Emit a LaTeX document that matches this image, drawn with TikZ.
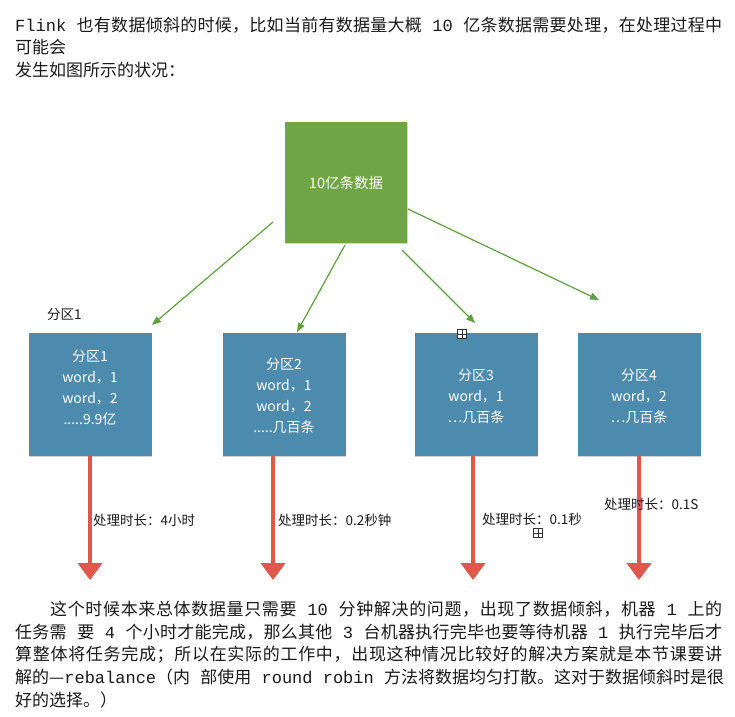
\documentclass[tikz,border=0pt]{standalone}
\usepackage{fontspec}
\setmainfont{Noto Sans CJK SC}
\newfontfamily\latfam{Liberation Mono}
\newcommand\latw[1]{\hbox{\latfam #1}\hskip 0pt plus 1pt}
\def\cjks#1{\cjksaux#1\relax}
\def\cjksaux#1{\ifx#1\relax\else #1\hskip 0pt plus 1pt\expandafter\cjksaux\fi}
\usetikzlibrary{arrows.meta,shadows}
\newcommand\jline[2]{\makebox[#1][s]{#2\unskip}}
\definecolor{boxgreen}{HTML}{6FA544}
\definecolor{boxblue}{HTML}{4C8BAD}
\definecolor{arrowgreen}{HTML}{5CA23C}
\definecolor{arrowred}{HTML}{E0574C}
\definecolor{txt}{HTML}{1A1A1A}
\begin{document}
\begin{tikzpicture}[x=1pt,y=-1pt,
  para/.style={anchor=west,inner sep=0pt,font=\fontsize{17}{17}\selectfont,text=txt},
  databox/.style={fill=boxgreen,minimum width=122pt,minimum height=121pt,inner sep=0pt,
    text=white,font=\fontsize{14.5}{17}\selectfont,
    drop shadow={shadow xshift=0.8pt,shadow yshift=-1.4pt,opacity=0.35}},
  partbox/.style={fill=boxblue,minimum width=123pt,minimum height=123pt,inner sep=0pt,
    drop shadow={shadow xshift=0.8pt,shadow yshift=-1.4pt,opacity=0.35}},
  parttext/.style={text=white,align=center,inner sep=0pt,font=\fontsize{14}{21}\selectfont},
  feed/.style={draw=arrowgreen,line width=1.2pt,-{Triangle[length=9pt,width=7pt]}},
  slow/.style={draw=arrowred,line width=4.5pt,-{Triangle[length=17pt,width=24pt]}},
  lbl/.style={anchor=west,inner sep=0pt,font=\fontsize{13.5}{14}\selectfont,text=txt},
  marker/.style={draw=black!80,line width=0.6pt,fill=white,minimum size=9pt,inner sep=0pt}
]
\useasboundingbox[fill=white] (0,0) rectangle (735,716);

% top paragraph
\node[para] (t1) at (15,25) {\jline{707pt}{\latw{Flink }\cjks{也有数据倾斜的时候，比如当前有数据量大概}\latw{ 10 }\cjks{亿条数据需要处理，在处理过程中}}};
\node[para] (t2) at (15,47) {可能会};
\node[para] (t3) at (15,70) {发生如图所示的状况：};

% source box
\node[databox] (src) at (346,182.5) {10亿条数据};

% partition boxes
\node[lbl] (p1tag) at (47,315) {分区1};
\node[partbox] (b1) at (90,394.5) {};
\node[partbox] (b2) at (284,394.5) {};
\node[partbox] (b3) at (476,394.5) {};
\node[partbox] (b4) at (639,394.5) {};
\node[parttext] (b1t) at (90,388) {分区1\\word，1\\word，2\\.....9.9亿};
\node[parttext] (b2t) at (284,396) {分区2\\word，1\\word，2\\.....几百条};
\node[parttext] (b3t) at (476,396) {分区3\\word，1\\…几百条};
\node[parttext] (b4t) at (639,396) {分区4\\word，2\\…几百条};

% green connectors
\coordinate (s1) at (273,222); \coordinate (h1) at (152,325);
\coordinate (s2) at (345,245); \coordinate (h2) at (297,332);
\coordinate (s3) at (402,250); \coordinate (h3) at (475,323);
\coordinate (s4) at (408,209); \coordinate (h4) at (599,300);
\draw[feed] (s1) -- (h1);
\draw[feed] (s2) -- (h2);
\draw[feed] (s3) -- (h3);
\draw[feed] (s4) -- (h4);

% red arrows
\coordinate (e1) at (90,580);
\coordinate (e2) at (273,580);
\coordinate (e3) at (473,580);
\coordinate (e4) at (639,580);
\draw[slow] (b1.south -| e1) -- (e1);
\draw[slow] (b2.south -| e2) -- (e2);
\draw[slow] (b3.south -| e3) -- (e3);
\draw[slow] (b4.south -| e4) -- (e4);

% durations
\node[lbl] (d1) at (93,520) {处理时长：4小时};
\node[lbl] (d2) at (278,520) {处理时长：0.2秒钟};
\node[lbl] (d3) at (482,519) {处理时长：0.1秒};
\node[lbl] (d4) at (604,504) {处理时长：0.1S};

% anchor markers
\node[marker] (ic1) at (462,334) {};
\draw[black!80,line width=0.6pt] (ic1.north) -- (ic1.south) (ic1.west) -- (ic1.east);
\node[marker] (ic2) at (538,533) {};
\draw[black!80,line width=0.6pt] (ic2.north) -- (ic2.south) (ic2.west) -- (ic2.east);

% bottom paragraph
\node[para] (q1) at (50,609) {\jline{672pt}{\cjks{这个时候本来总体数据量只需要}\latw{ 10 }\cjks{分钟解决的问题，出现了数据倾斜，机器}\latw{ 1 }\cjks{上的}}};
\node[para] (q2) at (15,632) {\jline{707pt}{\cjks{任务需}\latw{ }\cjks{要}\latw{ 4 }\cjks{个小时才能完成，那么其他}\latw{ 3 }\cjks{台机器执行完毕也要等待机器}\latw{ 1 }\cjks{执行完毕后才}}};
\node[para] (q3) at (15,655) {\jline{707pt}{\cjks{算整体将任务完成；所以在实际的工作中，出现这种情况比较好的解决方案就是本节课要讲}}};
\node[para] (q4) at (15,677) {\jline{707pt}{\cjks{解的—}\latw{rebalance}\cjks{（内}\latw{ }\cjks{部使用}\latw{ round robin }\cjks{方法将数据均匀打散。这对于数据倾斜时是很}}};
\node[para] (q5) at (15,700) {好的选择。）};
\end{tikzpicture}
\end{document}
